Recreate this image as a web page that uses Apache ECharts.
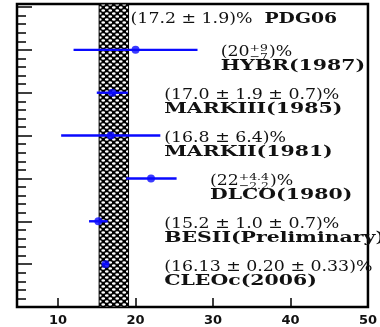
<!DOCTYPE html>
<html>
<head>
<meta charset="utf-8">
<script src="https://cdn.jsdelivr.net/npm/echarts@6/dist/echarts.min.js"></script>
<style>html,body{margin:0;padding:0;background:#fff}#c{width:380px;height:327px}</style>
</head>
<body>
<div id="c"></div>
<script>
// ---------------- data ----------------
const categories = ['CLEOc(2006)', 'BESII(Preliminary)', 'DLCO(1980)', 'MARKII(1981)', 'MARKIII(1985)', 'HYBR(1987)'];
const values   = [16.13, 15.2, 22.0, 16.8, 17.0, 20.0];
const errLow   = [15.75, 14.0, 18.8, 10.4, 15.0, 12.0];
const errHigh  = [16.51, 16.4, 25.3, 23.2, 19.0, 28.0];
const resultText = [
  {main: '(16.13 ± 0.20 ± 0.33)%'},
  {main: '(15.2 ± 1.0 ± 0.7)%'},
  {pre: '(22', sup: '+4.4', sub: '−2.2', post: ')%'},
  {main: '(16.8 ± 6.4)%'},
  {main: '(17.0 ± 1.9 ± 0.7)%'},
  {pre: '(20', sup: '+9', sub: '−7', post: ')%'}
];
const pdgValue = 17.2;
const pdgError = 1.9;
const pdgText = '(17.2 ± 1.9)%';
const pdgName = 'PDG06';
const xTickLabels = [10, 20, 30, 40, 50];

// ---------------- layout ----------------
const labelStartX = [23.7, 23.7, 29.6, 23.7, 23.7, 31.0];
const REG_SCALE = 1.24;
const BOLD_SCALE = 1.46;
const REG_FONT = '14px "DejaVu Serif"';
const BOLD_FONT = 'bold 14px "DejaVu Serif"';
const SMALL_FONT = '10px "DejaVu Serif"';
const BLUE = '#0a0aff';

const mctx = document.createElement('canvas').getContext('2d');
function tw(text, font) { mctx.font = font; return mctx.measureText(text).width; }

function makePattern() {
  const c = document.createElement('canvas');
  c.width = 7; c.height = 6;
  const g = c.getContext('2d');
  g.fillStyle = '#000'; g.fillRect(0, 0, 7, 6);
  g.fillStyle = '#fff';
  const pts = [[1.75, 1.5], [5.25, 4.5]];
  pts.forEach(p => {
    g.beginPath(); g.ellipse(p[0], p[1], 1.9, 1.25, 0, 0, Math.PI * 2); g.fill();
  });
  return c;
}

function txt(x, y, text, font, scale) {
  return {type: 'text', x: x, y: y, scaleX: scale, originX: 0, originY: 0,
    style: {text: text, x: 0, y: 0, font: font, fill: '#111', align: 'left', verticalAlign: 'middle'}};
}

const barData = values.map((v, i) => [v, i + 1, errLow[i], errHigh[i]]);

function renderBar(params, api) {
  const i = params.dataIndex;
  const y = api.value(1);
  const p1 = api.coord([api.value(2), y]);
  const p2 = api.coord([api.value(3), y]);
  const children = [{
    type: 'line', shape: {x1: p1[0], y1: p1[1], x2: p2[0], y2: p2[1]},
    style: {stroke: BLUE, lineWidth: 2.4}
  }];
  const a = api.coord([labelStartX[i], y]);
  const lx = a[0], ly1 = a[1] + 3, ly2 = a[1] + 17;
  const r = resultText[i];
  if (r.main) {
    children.push(txt(lx, ly1, r.main, REG_FONT, REG_SCALE));
  } else {
    children.push(txt(lx, ly1, r.pre, REG_FONT, REG_SCALE));
    const x2 = lx + tw(r.pre, REG_FONT) * REG_SCALE;
    children.push(txt(x2, ly1 - 4, r.sup, SMALL_FONT, REG_SCALE));
    children.push(txt(x2, ly1 + 5, r.sub, SMALL_FONT, REG_SCALE));
    const w = Math.max(tw(r.sup, SMALL_FONT), tw(r.sub, SMALL_FONT)) * REG_SCALE;
    children.push(txt(x2 + w + 1, ly1, r.post, REG_FONT, REG_SCALE));
  }
  children.push(txt(lx, ly2, categories[i], BOLD_FONT, BOLD_SCALE));
  return {type: 'group', children: children};
}

function renderPdg(params, api) {
  const a = api.coord([pdgValue + pdgError, 6.7]);
  const x = a[0] + 2;
  const w = tw(pdgText, REG_FONT) * REG_SCALE;
  return {type: 'group', children: [
    txt(x, a[1], pdgText, REG_FONT, REG_SCALE),
    txt(x + w + 12, a[1], pdgName, BOLD_FONT, BOLD_SCALE * 0.92)
  ]};
}

const chart = echarts.init(document.getElementById('c'), null, {renderer: 'canvas'});
chart.setOption({
  animation: false,
  backgroundColor: '#fff',
  grid: {left: 17, right: 6, top: 4, bottom: 19, show: true, borderColor: '#000', borderWidth: 2.5, backgroundColor: 'transparent'},
  xAxis: {
    type: 'value', min: 4.7, max: 50,
    axisLine: {lineStyle: {color: '#000', width: 2}},
    axisTick: {inside: true, length: 9, lineStyle: {color: '#000', width: 1.5}, customValues: xTickLabels.slice(0, 4)},
    axisLabel: {customValues: xTickLabels, margin: 7, fontFamily: 'DejaVu Sans', fontWeight: 'bold', fontSize: 13, color: '#111', showMaxLabel: true},
    splitLine: {show: false}
  },
  yAxis: {
    type: 'value', min: 0, max: 7.07, interval: 1,
    axisLine: {lineStyle: {color: '#000', width: 2}},
    axisTick: {inside: true, length: 15, lineStyle: {color: '#000', width: 1.5}},
    minorTick: {show: true, splitNumber: 5, length: 9, lineStyle: {color: '#000', width: 1.5}},
    axisLabel: {show: false},
    splitLine: {show: false}
  },
  series: [
    {
      type: 'line', data: [], z: 1, silent: true,
      markArea: {
        silent: true,
        itemStyle: {color: {image: makePattern(), repeat: 'repeat'}, borderColor: '#000', borderWidth: 1},
        data: [[{xAxis: pdgValue - pdgError, yAxis: 0}, {xAxis: pdgValue + pdgError, yAxis: 7.07}]]
      }
    },
    {type: 'custom', z: 3, clip: false, silent: true, data: barData, renderItem: renderBar},
    {type: 'custom', z: 3, clip: false, silent: true, data: [[pdgValue, 6.7]], renderItem: renderPdg},
    {
      type: 'scatter', z: 4, silent: true, symbol: 'circle', symbolSize: 8,
      itemStyle: {color: BLUE},
      data: values.map((v, i) => [v, i + 1])
    }
  ]
});
</script>
</body>
</html>
